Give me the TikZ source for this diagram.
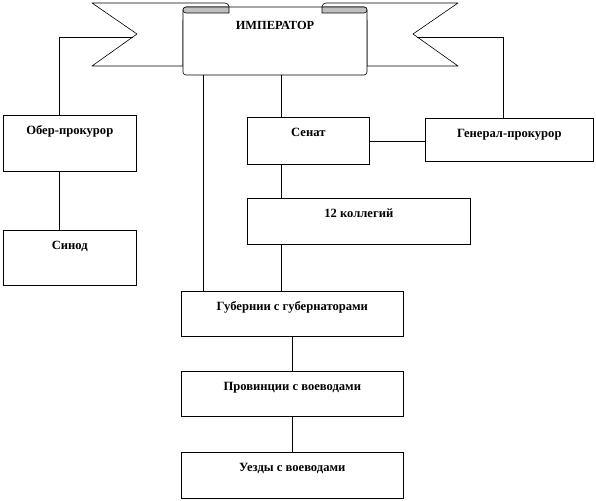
\documentclass[tikz,border=0pt]{standalone}
\usepackage{fontspec}
\setmainfont{Liberation Serif}
\definecolor{rollgray}{RGB}{192,192,192}
\tikzset{
  % boxes of the scheme, the title sits near the top edge
  orgbox/.style={draw, line width=0.6pt, fill=white, anchor=north west,
    inner xsep=2pt, inner ysep=3pt, text height=16pt,
    font=\fontsize{12.6}{14}\selectfont\bfseries},
  % plain joining lines
  linkln/.style={line width=0.6pt},
  % outline of the banner
  ribbonln/.style={line width=0.6pt, fill=white, line join=round},
  rollln/.style={line width=0.6pt, fill=rollgray},
}

\begin{document}
\begin{tikzpicture}[x=1pt, y=-1pt]
    \useasboundingbox (0,0) rectangle (596,500);
    % back ends of the banner
    \draw[ribbonln] (183,66) -- (92,66) -- (137,34) -- (92,3) -- (225,3)
      arc[start angle=270, end angle=360, radius=4] -- (229,20) -- (183,20) -- cycle;
    \draw[ribbonln] (367,66) -- (458,66) -- (413,34) -- (458,3) -- (326,3)
      arc[start angle=270, end angle=180, radius=4] -- (322,20) -- (367,20) -- cycle;
    % front scroll with its two rolls
    \filldraw[ribbonln, rounded corners=3pt] (183,7) rectangle (367,75);
    \filldraw[rollln] (229,7) -- (186,7) arc[start angle=270, end angle=90, radius=3]
      -- (229,13) -- cycle;
    \filldraw[rollln] (322,7) -- (364,7) arc[start angle=270, end angle=450, radius=3]
      -- (322,13) -- cycle;
    \node[font=\fontsize{12.4}{14}\selectfont\bfseries] (imp) at (275,25) {ИМПЕРАТОР};
    % where the lines leave the banner
    \coordinate (ribL) at (133,37);
    \coordinate (ribR) at (417,37);
    \coordinate (scrA) at (203,75);
    \coordinate (scrB) at (281,75);
    \coordinate (oberx) at (59,0);
    \coordinate (genx) at (503,0);
    % boxes
    \node[orgbox, minimum width=133pt, text depth=34pt] (ober) at (3,115) {Обер-прокурор};
    \node[orgbox, minimum width=133pt, text depth=33pt] (sinod) at (3,230) {Синод};
    \node[orgbox, minimum width=122pt, text depth=25pt] (senat) at (247,117) {Сенат};
    \node[orgbox, minimum width=168pt, text depth=21pt] (gen) at (425,118) {Генерал-прокурор};
    \node[orgbox, minimum width=223pt, text depth=24pt] (koll) at (247,198) {12 коллегий};
    \node[orgbox, minimum width=222pt, text depth=23pt] (gub) at (181,291) {Губернии с губернаторами};
    \node[orgbox, minimum width=222pt, text depth=23pt] (prov) at (181,371) {Провинции с воеводами};
    \node[orgbox, minimum width=222pt, text depth=24pt] (uezd) at (181,452) {Уезды с воеводами};
    % lines
    \draw[linkln] (ribL) -| (oberx |- ober.north);
    \draw[linkln] (oberx |- ober.south) -- (oberx |- sinod.north);
    \draw[linkln] (ribR) -| (genx |- gen.north);
    \draw[linkln] (scrB) -- (scrB |- senat.north);
    \draw[linkln] (senat.east) -- (senat.east -| gen.west);
    \draw[linkln] (scrB |- senat.south) -- (scrB |- koll.north);
    \draw[linkln] (scrB |- koll.south) -- (scrB |- gub.north);
    \draw[linkln] (scrA) -- (scrA |- gub.north);
    \draw[linkln] (gub.south) -- (prov.north);
    \draw[linkln] (prov.south) -- (uezd.north);
\end{tikzpicture}
\end{document}
